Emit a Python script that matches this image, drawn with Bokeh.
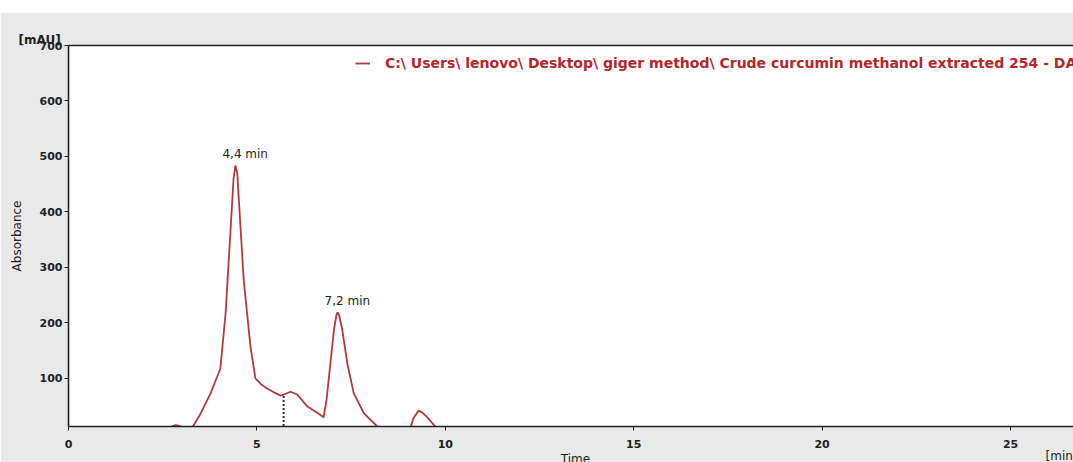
from bokeh.plotting import figure
from bokeh.models import Range1d, LinearAxis, FixedTicker, Title, ColumnDataSource, Spacer
from bokeh.layouts import column
from bokeh.core.properties import value
from bokeh.embed import file_html
from bokeh.resources import INLINE

# ---- data ----
time_min = [0.0, 2.6, 2.75, 2.85, 2.95, 3.1, 3.3, 3.5, 3.77, 4.03, 4.17, 4.3, 4.38, 4.43,
            4.48, 4.52, 4.65, 4.83, 4.96, 5.1, 5.27, 5.45, 5.63, 5.75, 5.89, 6.07, 6.33,
            6.6, 6.77, 6.85, 6.95, 7.05, 7.11, 7.14, 7.18, 7.26, 7.4, 7.57, 7.84, 8.2, 8.5,
            9.05, 9.15, 9.29, 9.4, 9.52, 9.74, 10.0, 27.0]
absorbance = [0, 0, 14, 16, 14, 10, 13, 36, 73, 118, 218, 367, 460, 484,
              470, 423, 277, 157, 100, 90, 82, 75, 69, 72, 76, 71, 50,
              38, 30, 62, 127, 190, 214, 219, 214, 190, 127, 73, 37, 13, 5,
              5, 28, 42, 38, 30, 13, 5, 0]
peak_times = [4.43, 7.14]
peak_heights = [484, 219]
peak_labels = ["4,4 min", "7,2 min"]
x_ticks = [0, 5, 10, 15, 20, 25]
y_ticks = [100, 200, 300, 400, 500, 600, 700]
series_name = "C:\\ Users\\ lenovo\\ Desktop\\ giger method\\ Crude curcumin methanol extracted 254 - DAD"
dotted_drop_x = [5.71]
dotted_drop_top = [70]

LINE_COLOR = "#b23a3a"
GREY = "#e9e9e9"
FONT = "DejaVu Sans"
INK = "#222222"

p = figure(width=1085, height=462, output_backend="svg", toolbar_location=None,
           x_range=Range1d(0, 26.91), y_range=Range1d(13.4, 700),
           min_border_left=68, min_border_right=3, min_border_top=33, min_border_bottom=48)
p.border_fill_color = GREY
p.background_fill_color = "white"
p.outline_line_color = None
p.xgrid.visible = False
p.ygrid.visible = False

for ax in (p.xaxis[0], p.yaxis[0]):
    ax.axis_line_color = INK
    ax.axis_line_width = 1.6
    ax.major_tick_line_color = INK
    ax.major_tick_out = 4
    ax.major_tick_in = 0
    ax.minor_tick_line_color = None
    ax.major_label_text_font = FONT
    ax.major_label_text_font_style = "bold"
    ax.major_label_text_font_size = "11px"
    ax.major_label_text_color = INK
    ax.axis_label_text_font = FONT
    ax.axis_label_text_font_style = "normal"
    ax.axis_label_text_font_size = "12px"
    ax.axis_label_text_color = INK
p.xaxis[0].ticker = FixedTicker(ticks=x_ticks)
p.yaxis[0].ticker = FixedTicker(ticks=y_ticks)
p.xaxis[0].major_label_standoff = 9
p.yaxis[0].major_label_standoff = 2
p.xaxis[0].axis_label = "Time"
p.xaxis[0].axis_label_standoff = 1
p.yaxis[0].axis_label = "Absorbance"
p.yaxis[0].axis_label_standoff = 13

top_axis = LinearAxis(axis_line_color=INK, axis_line_width=1.6,
                      major_tick_line_color=None, minor_tick_line_color=None,
                      major_label_text_font_size="0px", major_label_standoff=0)
p.add_layout(top_axis, "above")

unit_y = Title(text="[mAU]", align="left", offset=-50, vertical_align="bottom", standoff=-14,
               text_font=FONT, text_font_style="bold", text_font_size="12px", text_color=INK)
p.add_layout(unit_y, "above")

unit_x = Title(text="[min]", align="right", offset=5, vertical_align="top", standoff=-40,
               text_font=FONT, text_font_style="normal", text_font_size="12px", text_color=INK)
p.add_layout(unit_x, "below")

src = ColumnDataSource(dict(t=time_min, a=absorbance))
p.line("t", "a", source=src, line_color=LINE_COLOR, line_width=1.8, legend_label=series_name)

p.segment(x0=dotted_drop_x, y0=[0] * len(dotted_drop_x), x1=dotted_drop_x, y1=dotted_drop_top,
          line_color="#333333", line_width=2, line_dash="2 2")

p.text(x=peak_times, y=peak_heights, text=peak_labels, x_offset=-13, y_offset=-4,
       text_font=value(FONT), text_font_size="12px", text_color=INK,
       text_align="left", text_baseline="bottom")

leg = p.legend[0]
leg.location = (287, 355)
leg.padding = 0
leg.margin = 0
leg.border_line_color = None
leg.background_fill_alpha = 0
leg.glyph_width = 15
leg.glyph_height = 14
leg.label_standoff = 15
leg.label_text_font = FONT
leg.label_text_font_style = "bold"
leg.label_text_font_size = "14px"
leg.label_text_color = "#b5262b"

layout = column(Spacer(width=1085, height=12), p, spacing=0)
open("out.html", "w").write(file_html(layout, INLINE))
